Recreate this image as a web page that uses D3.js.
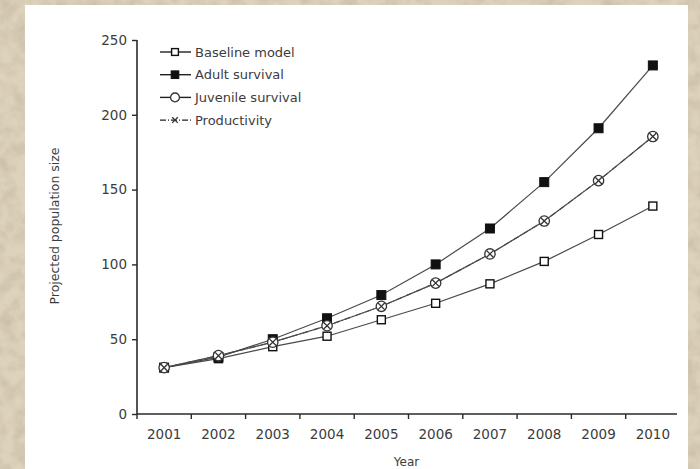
<!DOCTYPE html>
<html>
<head>
<meta charset="utf-8">
<script src="https://cdn.jsdelivr.net/npm/d3@7"></script>
<style>
  body { margin: 0; background: #d6c9ae; }
  svg { display: block; }
</style>
</head>
<body>
<script>
// chart values
const years = ["2001", "2002", "2003", "2004", "2005", "2006", "2007", "2008", "2009", "2010"];
const baseline = [31, 37, 45, 52, 63, 74, 87, 102, 120, 139];
const adult = [31, 38, 50, 64, 79.5, 100, 124, 155, 191, 233];
const juvenile = [31, 39, 48, 59, 72, 87.5, 107, 129, 156, 185.5];
const productivity = [31, 39, 48, 59, 72, 87.5, 107, 129, 156, 185.5];
const yTicks = [0, 50, 100, 150, 200, 250];
const seriesNames = ["Baseline model", "Adult survival", "Juvenile survival", "Productivity"];

const w = 700;
const h = 469;
const plotLeft = 137;
const plotRight = 680;
const plotTop = 40;
const plotBottom = 414;

const svg = d3.select("body").append("svg").attr("width", w).attr("height", h);

// parchment background
const defs = svg.append("defs");
const noise = defs.append("filter").attr("id", "paper").attr("x", 0).attr("y", 0).attr("width", "100%").attr("height", "100%");
noise.append("feTurbulence").attr("type", "fractalNoise").attr("baseFrequency", 0.07).attr("numOctaves", 3).attr("seed", 4);
noise.append("feColorMatrix").attr("type", "matrix")
  .attr("values", "0 0 0 0 0.45  0 0 0 0 0.38  0 0 0 0 0.28  0 0 0 -1.6 1.05");

svg.append("rect").attr("width", w).attr("height", h).style("fill", "#ddd2bb");
svg.append("rect").attr("width", w).attr("height", h).attr("filter", "url(#paper)").style("opacity", 0.5);

// white panel
svg.append("rect").attr("x", 25).attr("y", 5).attr("width", 663).attr("height", h - 5).style("fill", "#fff");

const x = d3.scaleBand().domain(years).range([plotLeft, plotRight]);
const y = d3.scaleLinear().domain([0, 250]).range([plotBottom, plotTop]);

const ink = "#2a2a2a";
const textCol = "#3c3c3c";
const font = "DejaVu Sans, Verdana, sans-serif";

// y axis
const yAxis = svg.append("g")
  .attr("transform", `translate(${plotLeft},0)`)
  .call(d3.axisLeft(y).tickValues(yTicks).tickSize(5).tickPadding(5));
yAxis.select(".domain").attr("d", `M0,${plotTop}V${plotBottom}`).style("stroke", ink).style("stroke-width", 1.6);
yAxis.selectAll(".tick line").style("stroke", ink).style("stroke-width", 1.4);
yAxis.selectAll(".tick text").style("font-family", font).style("font-size", "13.5px").style("fill", textCol);

// x axis, ticks sit between the years
const xAxis = svg.append("g").attr("transform", `translate(0,${plotBottom})`);
xAxis.append("line")
  .attr("x1", plotLeft).attr("x2", x.range()[1] - 3)
  .attr("y1", 0).attr("y2", 0)
  .style("stroke", ink).style("stroke-width", 1.6);
xAxis.selectAll(".xtick")
  .data(years)
  .enter()
  .append("line")
  .attr("x1", function (d) { return x(d); })
  .attr("x2", function (d) { return x(d); })
  .attr("y1", 0)
  .attr("y2", 5)
  .style("stroke", ink)
  .style("stroke-width", 1.4);
xAxis.selectAll(".xlabel")
  .data(years)
  .enter()
  .append("text")
  .attr("x", function (d) { return x(d) + x.bandwidth() / 2; })
  .attr("y", 25)
  .attr("text-anchor", "middle")
  .style("font-family", font)
  .style("font-size", "13.5px")
  .style("fill", textCol)
  .text(function (d) { return d; });

// axis titles
svg.append("text")
  .attr("x", (plotLeft + plotRight) / 2 - 2)
  .attr("y", 466)
  .attr("text-anchor", "middle")
  .style("font-family", font)
  .style("font-size", "12px")
  .style("fill", textCol)
  .text("Year");

svg.append("text")
  .attr("transform", "translate(59,226) rotate(-90)")
  .attr("text-anchor", "middle")
  .style("font-family", font)
  .style("font-size", "12.5px")
  .style("fill", textCol)
  .text("Projected population size");

// series
const series = [
  { name: seriesNames[0], values: baseline, marker: "open", dash: null },
  { name: seriesNames[1], values: adult, marker: "filled", dash: null },
  { name: seriesNames[2], values: juvenile, marker: "circle", dash: null },
  { name: seriesNames[3], values: productivity, marker: "cross", dash: "6,2,1,2" }
];

const line = d3.line()
  .x(function (d, i) { return x(years[i]) + x.bandwidth() / 2; })
  .y(function (d) { return y(d); });

const drawMarker = function (g, type, k) {
  if (type === "open") {
    g.append("rect").attr("x", -4 * k).attr("y", -4 * k).attr("width", 8 * k).attr("height", 8 * k)
      .style("fill", "#fff").style("stroke", "#111").style("stroke-width", 1.4);
  } else if (type === "filled") {
    g.append("rect").attr("x", -4.5 * k).attr("y", -4.5 * k).attr("width", 9 * k).attr("height", 9 * k)
      .style("fill", "#111").style("stroke", "#111").style("stroke-width", 1);
  } else if (type === "circle") {
    g.append("circle").attr("r", 5.2 * k)
      .style("fill", "#fff").style("stroke", "#333").style("stroke-width", 1.3);
  } else {
    const a = 3.3 * k;
    g.append("path").attr("d", `M${-a},${-a}L${a},${a}M${-a},${a}L${a},${-a}`)
      .style("fill", "none").style("stroke", "#333").style("stroke-width", 1.3);
  }
};

series.forEach(function (s) {
  svg.append("path")
    .datum(s.values)
    .attr("d", line)
    .style("fill", "none")
    .style("stroke", "#4a4a4a")
    .style("stroke-width", 1.2)
    .style("stroke-dasharray", s.dash);
});

series.forEach(function (s) {
  svg.selectAll(null)
    .data(s.values)
    .enter()
    .append("g")
    .attr("transform", function (d, i) {
      return `translate(${x(years[i]) + x.bandwidth() / 2},${y(d)})`;
    })
    .each(function () { drawMarker(d3.select(this), s.marker, 1); });
});

// legend
const legend = svg.append("g").attr("transform", "translate(160,52)");
series.forEach(function (s, i) {
  const row = legend.append("g").attr("transform", `translate(0,${i * 22.7})`);
  row.append("line")
    .attr("x1", 0).attr("x2", 31).attr("y1", 0).attr("y2", 0)
    .style("stroke", "#222").style("stroke-width", 1.4)
    .style("stroke-dasharray", s.dash);
  const m = row.append("g").attr("transform", "translate(15,0)");
  drawMarker(m, s.marker, 0.85);
  row.append("text")
    .attr("x", 35)
    .attr("y", 0)
    .attr("dy", "0.35em")
    .style("font-family", font)
    .style("font-size", "13px")
    .style("fill", textCol)
    .text(s.name);
});
</script>
</body>
</html>
